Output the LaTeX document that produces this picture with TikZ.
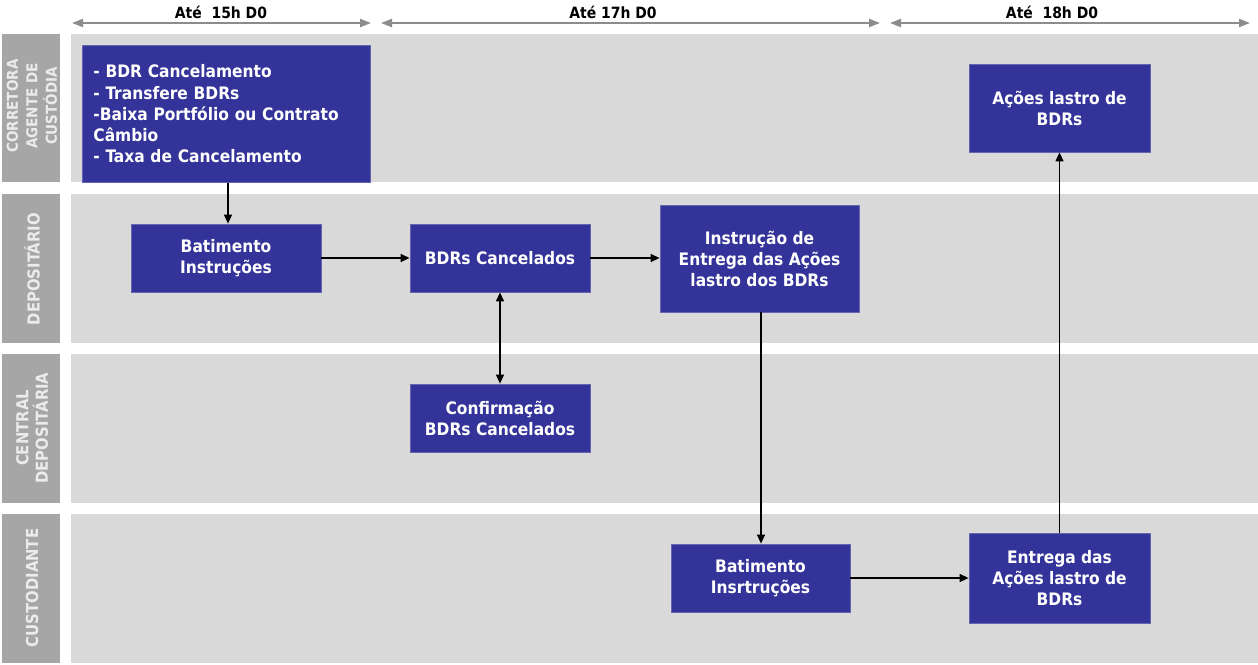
\documentclass[tikz,border=0pt]{standalone}
\usepackage{fontspec}
\setmainfont{DejaVu Sans Condensed}
\usetikzlibrary{arrows.meta}
\definecolor{lanebg}{HTML}{D9D9D9}
\definecolor{labbg}{HTML}{A6A6A6}
\definecolor{boxblue}{HTML}{333399}
\definecolor{boxedge}{HTML}{6666B0}
\definecolor{hdrarrow}{HTML}{8C8C8C}
\tikzset{
  lane/.style={fill=lanebg,draw=none},
  lanelab/.style={fill=labbg,draw=none},
  lanetext/.style={text=white!92!black,font=\bfseries\fontsize{16.5}{19.5}\selectfont,rotate=90,align=center},
  bluebox/.style={fill=boxblue,draw=boxedge,line width=0.8pt,text=white,font=\bfseries\fontsize{17.2}{21}\selectfont,align=center,inner sep=0pt},
  flow/.style={-{Triangle[length=9pt,width=8pt]},line width=1.3pt,black},
  hdr/.style={{Triangle[length=11pt,width=8pt]}-{Triangle[length=11pt,width=8pt]},line width=2pt,hdrarrow},
  hdrtext/.style={font=\bfseries\fontsize{15.5}{16}\selectfont,text=black}
}
\begin{document}
\begin{tikzpicture}[x=1pt,y=-1pt]
\useasboundingbox (0,0) rectangle (1258,664);
% lanes
\fill[lane] (71,34) rectangle (1258,182);
\fill[lane] (71,194) rectangle (1258,343);
\fill[lane] (71,354) rectangle (1258,503);
\fill[lane] (71,514) rectangle (1258,663);
\fill[lanelab] (2,34) rectangle (60,182);
\fill[lanelab] (2,194) rectangle (60,343);
\fill[lanelab] (2,354) rectangle (60,503);
\fill[lanelab] (2,514) rectangle (60,663);
\node[lanetext,font=\bfseries\fontsize{15}{19.5}\selectfont] (l1) at (32,106) {CORRETORA\\AGENTE DE\\CUSTÓDIA};
\node[lanetext] (l2) at (32,269) {DEPOSITÁRIO};
\node[lanetext] (l3) at (32,428) {CENTRAL\\DEPOSITÁRIA};
\node[lanetext] (l4) at (32,588) {CUSTODIANTE};
% header
\coordinate (h1a) at (72,23); \coordinate (h1b) at (371,23);
\coordinate (h2a) at (381,23); \coordinate (h2b) at (880,23);
\coordinate (h3a) at (890,23); \coordinate (h3b) at (1250,23);
\draw[hdr] (h1a) -- (h1b);
\draw[hdr] (h2a) -- (h2b);
\draw[hdr] (h3a) -- (h3b);
\node[hdrtext] (t1) at (221,12) {Até\ \ 15h D0};
\node[hdrtext] (t2) at (613,12) {Até 17h D0};
\node[hdrtext] (t3) at (1052,12) {Até\ \ 18h D0};
% boxes
\node[bluebox,minimum width=288pt,minimum height=137pt,align=left,anchor=north west,text width=266pt,inner xsep=11pt,font=\bfseries\fontsize{17.2}{21.3}\selectfont] (b1) at (82,45)
  {- BDR Cancelamento\\- Transfere BDRs\\-Baixa Portfólio ou Contrato\\Câmbio\\- Taxa de Cancelamento};
\node[bluebox,minimum width=190pt,minimum height=68pt] (b2) at (226,258) {Batimento\\Instruções};
\node[bluebox,minimum width=180pt,minimum height=68pt] (b3) at (500,258) {BDRs Cancelados};
\node[bluebox,minimum width=199pt,minimum height=107pt] (b4) at (759.5,258.5) {Instrução de\\Entrega das Ações\\lastro dos BDRs};
\node[bluebox,minimum width=180pt,minimum height=68pt] (b5) at (500,418) {Confirmação\\BDRs Cancelados};
\node[bluebox,minimum width=179pt,minimum height=68pt] (b6) at (760.5,578) {Batimento\\Insrtruções};
\node[bluebox,minimum width=181pt,minimum height=90pt] (b7) at (1059.5,578) {Entrega das\\Ações lastro de\\BDRs};
\node[bluebox,minimum width=181pt,minimum height=88pt] (b8) at (1059.5,108) {Ações lastro de\\BDRs};
% connectors
\draw[flow] (b1.south -| b2.north) ++(2,0) coordinate (c1) -- (c1 |- b2.north);
\draw[flow] (b2.east) -- (b3.west);
\draw[flow] (b3.east) -- (b3.east -| b4.west);
\draw[flow,{Triangle[length=9pt,width=8pt]}-{Triangle[length=9pt,width=8pt]}] (b3.south) -- (b5.north);
\draw[flow] (b4.south) ++(1.5,0) coordinate (c4) -- (c4 |- b6.north);
\draw[flow] (b6.east) -- (b6.east -| b7.west);
\draw[flow] (b7.north) -- (b8.south);
\end{tikzpicture}
\end{document}
